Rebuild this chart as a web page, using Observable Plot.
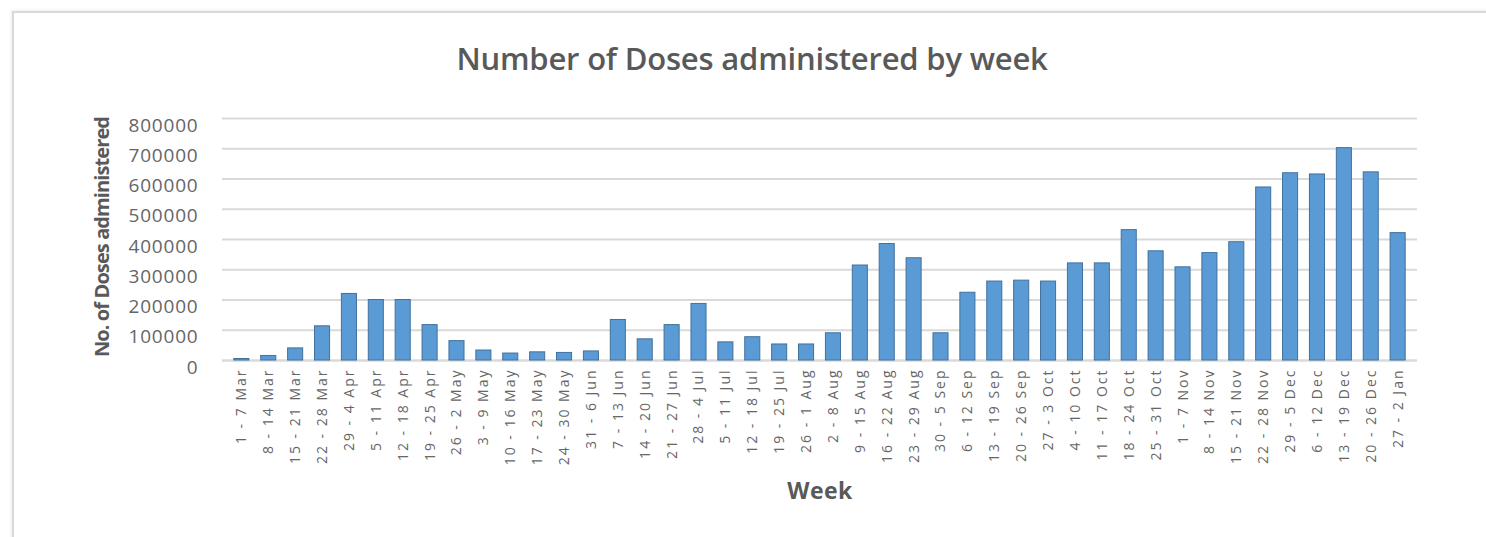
<!DOCTYPE html>
<html><head><meta charset="utf-8">
<script src="https://cdn.jsdelivr.net/npm/d3@7"></script>
<script src="https://cdn.jsdelivr.net/npm/@observablehq/plot@0.6"></script>
<style>
body{margin:0;background:#fff;width:1486px;height:537px;overflow:hidden;position:relative;font-family:"Open Sans",sans-serif}
#frame{position:absolute;left:12px;top:11px;width:1490px;height:540px;border-left:2px solid #d9d9d9;border-top:2px solid #d9d9d9;box-shadow:-1px -1px 3px #eee}
#title{position:absolute;left:12px;width:1480px;top:58px;transform:translateY(-50%);text-align:center;font-size:31px;font-weight:600;color:#595959;letter-spacing:-0.2px}
#ytitle{position:absolute;left:101px;top:237px;transform:translate(-50%,-50%) rotate(-90deg);white-space:nowrap;font-size:20px;font-weight:700;color:#595959;letter-spacing:-0.9px}
#xtitle{position:absolute;left:820px;top:490px;transform:translate(-50%,-50%);font-size:23px;font-weight:700;color:#595959;letter-spacing:0.5px}
#chart{position:absolute;left:0;top:100px}
#chart svg g[aria-label="x-axis tick label"] text{letter-spacing:2px}
#chart svg g[aria-label="y-axis tick label"] text{letter-spacing:0.8px}
</style></head>
<body>
<div id="frame"></div>
<div id="title">Number of Doses administered by week</div>
<div id="ytitle">No. of Doses administered</div>
<div id="xtitle">Week</div>
<div id="chart"></div>
<script>
const weeks = ["1 - 7 Mar","8 - 14 Mar","15 - 21 Mar","22 - 28 Mar","29 - 4 Apr","5 - 11 Apr","12 - 18 Apr","19 - 25 Apr","26 - 2 May","3 - 9 May","10 - 16 May","17 - 23 May","24 - 30 May","31 - 6 Jun","7 - 13 Jun","14 - 20 Jun","21 - 27 Jun","28 - 4 Jul","5 - 11 Jul","12 - 18 Jul","19 - 25 Jul","26 - 1 Aug","2 - 8 Aug","9 - 15 Aug","16 - 22 Aug","23 - 29 Aug","30 - 5 Sep","6 - 12 Sep","13 - 19 Sep","20 - 26 Sep","27 - 3 Oct","4 - 10 Oct","11 - 17 Oct","18 - 24 Oct","25 - 31 Oct","1 - 7 Nov","8 - 14 Nov","15 - 21 Nov","22 - 28 Nov","29 - 5 Dec","6 - 12 Dec","13 - 19 Dec","20 - 26 Dec","27 - 2 Jan"];
const doses = [5000,15000,40000,113000,220000,200000,200000,117000,64000,33000,23000,27000,25000,30000,134000,70000,117000,187000,60000,77000,53000,53000,90000,314000,385000,338000,90000,224000,261000,264000,261000,321000,321000,431000,361000,308000,355000,391000,572000,619000,615000,702000,622000,421000];
const yTicks = [0,100000,200000,300000,400000,500000,600000,700000,800000];

const data = weeks.map((w,i)=>({week:w, value:doses[i]}));
const chart = Plot.plot({
  width:1486, height:437,
  marginLeft:222, marginRight:69, marginTop:18, marginBottom:177,
  style:{fontFamily:"'Open Sans',sans-serif", color:"#595959", background:"transparent"},
  x:{domain:weeks, padding:0.44, label:null},
  y:{domain:[0,800000], label:null},
  marks:[
    Plot.gridY(yTicks,{stroke:"#d9d9d9", strokeOpacity:1, strokeWidth:2}),
    Plot.ruleY([0],{stroke:"#d9d9d9", strokeWidth:2}),
    Plot.barY(data,{x:"week", y:"value", fill:"#5b9bd5", stroke:"#41719c", strokeWidth:1}),
    Plot.axisY({ticks:yTicks, tickFormat:d=>String(d), tickSize:0, tickPadding:24, fontSize:19, dy:7, fill:"#666666"}),
    Plot.axisX({tickRotate:-90, tickSize:0, tickPadding:8, fontSize:14, fill:"#666666"})
  ]
});
document.getElementById("chart").appendChild(chart);
</script>
</body></html>
